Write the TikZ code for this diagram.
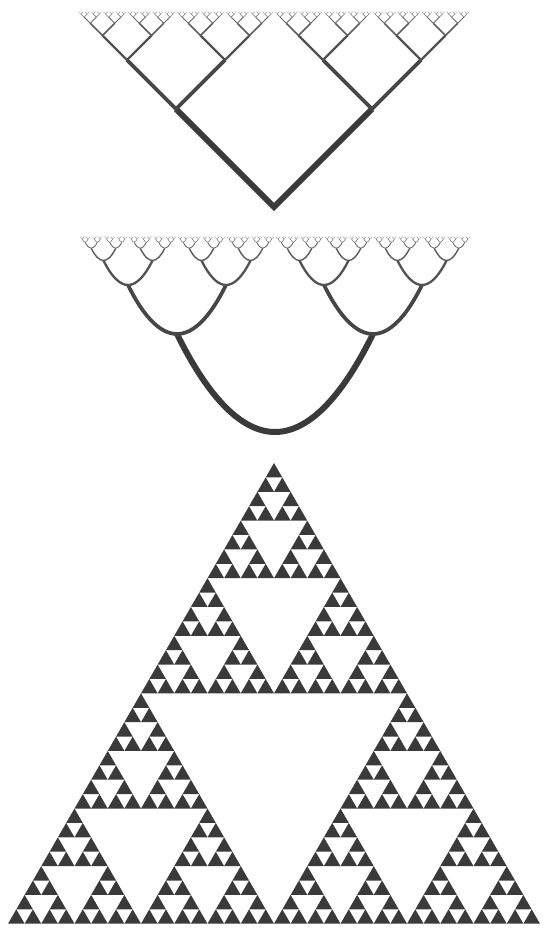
\documentclass[tikz,border=0pt]{standalone}
\usepackage{tikz}
\usetikzlibrary{calc}
\definecolor{ink}{HTML}{3A3A3A}

\begin{document}
\begin{tikzpicture}[x=1pt,y=-1pt,
  vbranch/.style={line join=miter},
  ubranch/.style={line join=round},
  tri/.style={fill=ink}]
\useasboundingbox (0,0) rectangle (548,928);
% straight tree
\foreach \k in {1,...,8} {
  \pgfmathsetmacro\w{6*0.62^(\k-1)}
  \pgfmathtruncatemacro\shade{100-6*(\k-1)}
  \pgfmathsetmacro\d{196/2^\k}
  \pgfmathsetmacro\yp{207-196*(1-2^(1-\k))}
  \pgfmathsetmacro\sp{392/2^(\k-1)}
  \pgfmathtruncatemacro\nmax{2^(\k-1)-1}
  \foreach \i in {0,...,\nmax} {
    \pgfmathsetmacro\xp{274-196+\sp/2+\i*\sp}
    \draw[vbranch, draw=ink!\shade, line width=\w pt]
      (\xp-\d,\yp-\d) -- (\xp,\yp) -- (\xp+\d,\yp-\d);
  }
}
% curved tree
\foreach \k in {1,...,8} {
  \pgfmathsetmacro\w{6*0.62^(\k-1)}
  \pgfmathtruncatemacro\shade{100-6*(\k-1)}
  \pgfmathsetmacro\d{196/2^\k}
  \pgfmathsetmacro\yp{432-196*(1-2^(1-\k))}
  \pgfmathsetmacro\sp{392/2^(\k-1)}
  \pgfmathtruncatemacro\nmax{2^(\k-1)-1}
  \foreach \i in {0,...,\nmax} {
    \pgfmathsetmacro\xp{275-196+\sp/2+\i*\sp}
    \draw[ubranch, draw=ink!\shade, line width=\w pt]
      (\xp-\d,\yp-\d) .. controls (\xp-0.67*\d,\yp-0.33*\d) and (\xp-0.33*\d,\yp) .. (\xp,\yp)
      .. controls (\xp+0.33*\d,\yp) and (\xp+0.67*\d,\yp-0.33*\d) .. (\xp+\d,\yp-\d);
  }
}
% sierpinski triangle, 32 rows
\foreach \r in {0,...,31} {
  \foreach \c in {0,...,\r} {
    \pgfmathtruncatemacro\hole{mod(\c,2)*mod(\r-\c,2)
      + mod(floor(\c/2),2)*mod(floor((\r-\c)/2),2)
      + mod(floor(\c/4),2)*mod(floor((\r-\c)/4),2)
      + mod(floor(\c/8),2)*mod(floor((\r-\c)/8),2)
      + mod(floor(\c/16),2)*mod(floor((\r-\c)/16),2)}
    \ifnum\hole=0
      \fill[tri] (274-\r*8.3125+\c*16.625,463+\r*14.397)
        -- ++(-8.3125,14.397) -- ++(16.625,0) -- cycle;
    \fi
  }
}
\end{tikzpicture}
\end{document}
